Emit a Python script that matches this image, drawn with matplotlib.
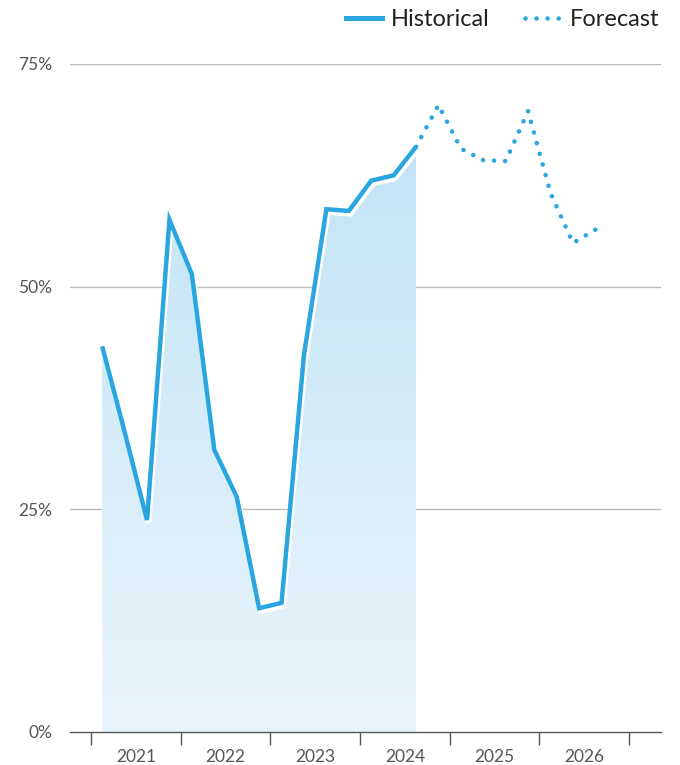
import numpy as np
import matplotlib
matplotlib.use("Agg")
import matplotlib.pyplot as plt
import matplotlib.patheffects as pe
from matplotlib.lines import Line2D
from matplotlib.ticker import FixedLocator, FuncFormatter

plt.rcParams['font.family'] = ['Lato', 'DejaVu Sans']

# Data (quarterly)
hist_x = [2021.125, 2021.375, 2021.625, 2021.875,
          2022.125, 2022.375, 2022.625, 2022.875,
          2023.125, 2023.375, 2023.625, 2023.875,
          2024.125, 2024.375, 2024.625]
hist_y = [43.3, 33.7, 23.8, 57.5,
          51.4, 31.7, 26.4, 13.9,
          14.5, 42.3, 58.7, 58.5,
          61.9, 62.5, 65.7]
fc_x = [2024.625, 2024.875, 2025.125, 2025.375, 2025.625, 2025.875,
        2026.125, 2026.375, 2026.625]
fc_y = [65.7, 70.4, 65.5, 64.2, 64.1, 69.7, 60.5, 54.9, 56.4]
years = [2021, 2022, 2023, 2024, 2025, 2026]
yticks = [0, 25, 50, 75]

blue = '#29a6df'
dot_lw = 3.3
dotstyle = (0, (0.01, 2.4))

fig = plt.figure(figsize=(6.8, 7.65), dpi=100)
ax = fig.add_axes([70/680, 1-732/765, (661-70)/680, (732-64)/765])
ax.set_xlim(2020.766, 2027.357)
ax.set_ylim(0, 75)

# gradient fill under historical line
poly = ax.fill_between(hist_x, hist_y, 0, color='none', lw=0)
verts = poly.get_paths()[0]
grad = np.linspace(0, 1, 256)
top = np.array([195, 228, 246]) / 255
bot = np.array([233, 245, 252]) / 255
img = top[None, None, :] + (bot - top)[None, None, :] * grad[:, None, None]
img = np.repeat(img, 2, axis=1)
im = ax.imshow(img, extent=[hist_x[0], hist_x[-1], 0, 66], aspect='auto',
               origin='upper', zorder=1)
im.set_clip_path(verts, transform=ax.transData)

# historical line with white offset stroke
ax.plot(hist_x, hist_y, color=blue, lw=3.2, solid_joinstyle='miter',
        solid_capstyle='butt', zorder=4,
        path_effects=[pe.Stroke(offset=(1.2, -2.2), linewidth=3.8, foreground='white'),
                      pe.Normal()])
# forecast dotted line
ax.plot(fc_x, fc_y, color=blue, lw=dot_lw, linestyle=dotstyle,
        dash_capstyle='round', zorder=4, clip_on=False)

# grid
for yv in yticks[1:]:
    ax.axhline(yv, color='#bdbdbd', lw=1, zorder=0)

for s in ['left', 'right', 'top']:
    ax.spines[s].set_visible(False)
ax.spines['bottom'].set_color('#555555')
ax.spines['bottom'].set_linewidth(1)

ax.yaxis.set_major_locator(FixedLocator(yticks))
ax.yaxis.set_major_formatter(FuncFormatter(lambda v, p: f"{int(v)}%"))
ax.tick_params(axis='y', length=0, pad=13, labelsize=12.5, labelcolor='#555555')

bounds = years + [years[-1] + 1]
ax.xaxis.set_major_locator(FixedLocator(bounds))
ax.xaxis.set_major_formatter(FuncFormatter(lambda v, p: ''))
ax.xaxis.set_minor_locator(FixedLocator([y + 0.5 for y in years]))
ax.xaxis.set_minor_formatter(FuncFormatter(lambda v, p: str(int(v))))
ax.tick_params(axis='x', which='major', length=9, width=1, color='#555555', direction='out')
ax.tick_params(axis='x', which='minor', length=0, pad=12, labelsize=12.5, labelcolor='#555555')

handles = [Line2D([0], [0], color=blue, lw=3.6),
           Line2D([0], [0], color=blue, lw=dot_lw, linestyle=dotstyle,
                  dash_capstyle='round')]
fig.legend(handles, ['Historical', 'Forecast'], loc='center right',
           bbox_to_anchor=(659/680, 1-20/765), ncol=2, frameon=False,
           fontsize=17, handlelength=1.55, handletextpad=0.35, columnspacing=1.5,
           borderpad=0, borderaxespad=0, labelcolor='#222222')

fig.savefig('out.png', dpi=100)
